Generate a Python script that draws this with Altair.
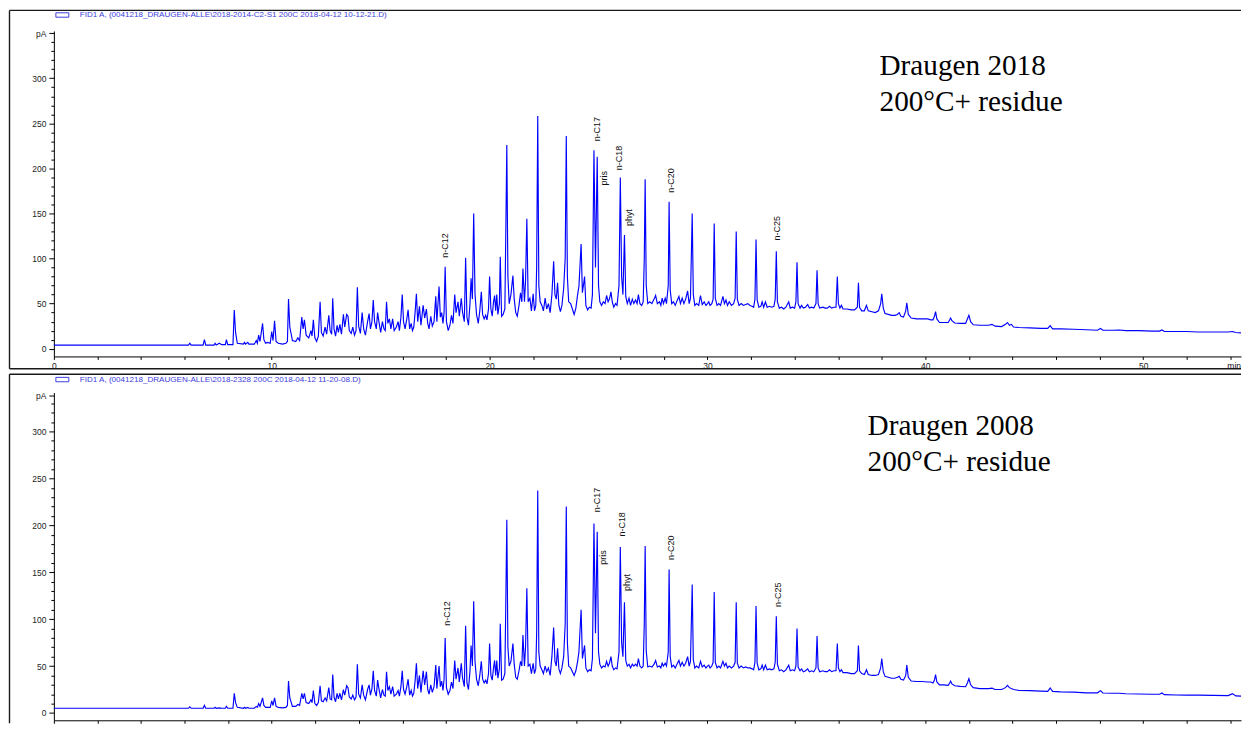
import altair as alt
import pandas as pd

# ---------------- data ----------------
trace_time = [
    0, 6.18, 6.24, 6.3, 6.85, 6.91, 6.97, 7.35, 7.4, 7.45,
    7.6, 7.7, 7.87, 7.92, 7.98, 8.22, 8.28, 8.34, 8.42, 8.7,
    8.75, 8.8, 8.9, 8.95, 9.2, 9.29, 9.34, 9.4, 9.46, 9.58,
    9.64, 9.72, 9.8, 9.93, 10.0, 10.06, 10.13, 10.2, 10.3, 10.5,
    10.65, 10.72, 10.77, 10.83, 10.95, 11.1, 11.2, 11.28, 11.38, 11.44,
    11.5, 11.58, 11.7, 11.8, 11.85, 11.91, 11.98, 12.06, 12.14, 12.22,
    12.28, 12.36, 12.45, 12.52, 12.62, 12.68, 12.75, 12.8, 12.86, 12.93,
    13.0, 13.06, 13.13, 13.2, 13.29, 13.35, 13.44, 13.5, 13.56, 13.65,
    13.72, 13.8, 13.87, 13.93, 13.99, 14.07, 14.15, 14.22, 14.3, 14.4,
    14.47, 14.53, 14.6, 14.66, 14.72, 14.8, 14.86, 14.92, 15.0, 15.08,
    15.15, 15.21, 15.27, 15.33, 15.4, 15.47, 15.55, 15.62, 15.72, 15.8,
    15.86, 15.93, 15.99, 16.05, 16.12, 16.2, 16.26, 16.33, 16.4, 16.46,
    16.52, 16.58, 16.64, 16.7, 16.78, 16.85, 16.95, 17.02, 17.1, 17.16,
    17.22, 17.3, 17.37, 17.45, 17.53, 17.58, 17.68, 17.74, 17.8, 17.86,
    17.91, 17.96, 18.02, 18.1, 18.18, 18.25, 18.32, 18.4, 18.46, 18.55,
    18.61, 18.7, 18.76, 18.84, 18.9, 18.96, 19.03, 19.1, 19.15, 19.21,
    19.27, 19.33, 19.4, 19.48, 19.55, 19.62, 19.68, 19.75, 19.82, 19.88,
    19.95, 20.0, 20.06, 20.12, 20.18, 20.23, 20.28, 20.33, 20.38, 20.45,
    20.49, 20.55, 20.62, 20.7, 20.74, 20.79, 20.84, 20.9, 20.98, 21.07,
    21.13, 21.2, 21.27, 21.35, 21.42, 21.48, 21.53, 21.6, 21.65, 21.71,
    21.77, 21.85, 21.92, 22.0, 22.06, 22.12, 22.16, 22.21, 22.26, 22.32,
    22.4, 22.47, 22.55, 22.62, 22.7, 22.78, 22.86, 22.94, 23.0, 23.06,
    23.12, 23.18, 23.25, 23.32, 23.4, 23.47, 23.52, 23.57, 23.63, 23.72,
    23.8, 23.88, 23.96, 24.04, 24.1, 24.2, 24.26, 24.36, 24.42, 24.5,
    24.58, 24.66, 24.72, 24.79, 24.86, 24.94, 25.0, 25.06, 25.14, 25.22,
    25.3, 25.37, 25.44, 25.5, 25.57, 25.63, 25.7, 25.78, 25.85, 25.94,
    26.0, 26.06, 26.12, 26.19, 26.25, 26.32, 26.4, 26.47, 26.55, 26.62,
    26.7, 26.77, 26.83, 26.9, 26.98, 27.05, 27.1, 27.14, 27.19, 27.26,
    27.35, 27.45, 27.55, 27.62, 27.7, 27.8, 27.86, 27.92, 27.98, 28.06,
    28.12, 28.2, 28.24, 28.29, 28.36, 28.44, 28.52, 28.6, 28.69, 28.76,
    28.84, 28.92, 29.0, 29.09, 29.16, 29.22, 29.3, 29.35, 29.42, 29.5,
    29.6, 29.68, 29.76, 29.85, 29.93, 30.0, 30.06, 30.12, 30.2, 30.26,
    30.31, 30.36, 30.44, 30.52, 30.6, 30.71, 30.78, 30.85, 30.92, 31.0,
    31.1, 31.2, 31.27, 31.32, 31.37, 31.45, 31.55, 31.65, 31.75, 31.85,
    31.95, 32.05, 32.12, 32.18, 32.23, 32.28, 32.36, 32.45, 32.51, 32.58,
    32.66, 32.74, 32.85, 32.95, 33.05, 33.11, 33.16, 33.21, 33.3, 33.4,
    33.5, 33.6, 33.73, 33.8, 33.9, 34.0, 34.06, 34.11, 34.16, 34.25,
    34.32, 34.4, 34.5, 34.6, 34.68, 34.78, 34.88, 34.98, 35.03, 35.08,
    35.15, 35.3, 35.4, 35.5, 35.6, 35.7, 35.8, 35.9, 35.96, 36.01,
    36.08, 36.15, 36.22, 36.4, 36.6, 36.75, 36.88, 36.93, 36.98, 37.08,
    37.2, 37.3, 37.38, 37.55, 37.7, 37.85, 37.95, 38.0, 38.07, 38.15,
    38.3, 38.45, 38.6, 38.72, 38.8, 38.88, 39.0, 39.1, 39.15, 39.22,
    39.35, 39.6, 39.85, 40.1, 40.25, 40.35, 40.42, 40.47, 40.53, 40.65,
    40.85, 41.05, 41.12, 41.16, 41.22, 41.35, 41.6, 41.85, 41.93, 42.0,
    42.08, 42.2, 42.5, 42.9, 43.06, 43.2, 43.5, 43.68, 43.77, 43.86,
    43.95, 44.05, 44.3, 44.8, 45.3, 45.62, 45.73, 45.84, 46.2, 46.8,
    47.4, 47.9, 48.04, 48.15, 48.6, 48.9, 49.2, 49.8, 50.4, 50.75,
    50.86, 50.97, 51.5, 52.0, 52.5, 53.2, 53.9, 54.1, 54.25, 54.49,
]

fid_2018 = [
    4, 4, 6, 4, 4, 10, 4, 4, 6, 4,
    6, 4.5, 4.5, 10, 4.5, 4.5, 43, 18, 6, 5,
    7, 5, 7, 5, 5, 9, 6, 15, 8, 28,
    10, 6, 7, 6, 19, 9, 31, 8, 6, 5,
    6, 8, 55, 24, 9, 8, 12, 9, 35, 22,
    32, 15, 12, 20, 14, 32, 12, 8, 14, 52,
    18, 14, 24, 16, 37, 20, 16, 56, 22, 14,
    26, 18, 27, 16, 38, 24, 38, 36, 20, 17,
    24, 15, 20, 68, 25, 17, 40, 22, 15, 30,
    39, 22, 30, 54, 30, 22, 40, 30, 18, 30,
    22, 20, 52, 28, 33, 22, 33, 20, 24, 30,
    20, 35, 60, 30, 22, 33, 43, 22, 28, 20,
    24, 40, 61, 30, 47, 26, 48, 34, 44, 28,
    22, 36, 25, 30, 58, 30, 69, 35, 40, 28,
    40, 91, 30, 20, 26, 37, 28, 60, 40, 52,
    36, 56, 40, 30, 101, 35, 26, 50, 78, 55,
    150, 61, 38, 28, 42, 63, 38, 33, 37, 32,
    44, 80, 44, 36, 52, 59, 42, 60, 38, 50,
    102, 36, 38, 44, 120, 226, 80, 50, 60, 81,
    55, 40, 36, 48, 62, 52, 89, 52, 75, 144,
    52, 56, 42, 61, 42, 48, 90, 258, 70, 52,
    48, 42, 56, 44, 50, 40, 60, 97, 60, 55,
    73, 48, 41, 48, 67, 100, 236, 80, 52, 50,
    44, 38, 45, 60, 69, 116, 62, 80, 48, 43,
    46, 45, 60, 220, 90, 213, 70, 52, 48, 52,
    50, 59, 52, 55, 63, 52, 46, 50, 48, 70,
    190, 80, 60, 126, 58, 50, 56, 48, 55, 50,
    54, 50, 60, 50, 48, 52, 100, 188, 70, 50,
    52, 50, 55, 59, 50, 52, 48, 56, 50, 56,
    50, 70, 163, 65, 50, 52, 48, 53, 58, 50,
    56, 50, 55, 64, 50, 56, 150, 60, 48, 50,
    48, 59, 49, 52, 48, 50, 52, 48, 50, 55,
    139, 56, 48, 50, 48, 58, 50, 54, 48, 52,
    48, 50, 56, 130, 55, 48, 50, 48, 49, 50,
    48, 47, 46, 55, 121, 54, 46, 47, 52, 46,
    52, 46, 47, 46, 47, 55, 108, 52, 45, 46,
    44, 46, 52, 45, 46, 45, 52, 96, 50, 45,
    48, 45, 46, 49, 45, 46, 45, 50, 87, 50,
    45, 46, 45, 45, 47, 45, 46, 46, 80, 50,
    45, 48, 44, 44, 43, 43, 46, 73, 46, 42,
    42, 48, 42, 41, 40, 42, 50, 61, 45, 39,
    38, 37, 37, 38, 40, 36, 35, 42, 51, 38,
    34, 33, 33, 33, 32, 32, 36, 41, 33, 29,
    29, 29, 32, 34, 31, 28.5, 28, 28, 33, 37,
    30, 26.5, 26, 26, 27, 25, 24.5, 27, 29, 26,
    27, 24, 23.5, 23, 22.5, 22.5, 25.6, 22, 22, 21.5,
    21, 20.5, 22.4, 20.5, 20.5, 20.7, 20, 20, 19.5, 19.5,
    20.7, 19, 19, 19, 18.5, 18.5, 18.5, 19, 18, 17.5,
]

fid_2008 = [
    5, 5, 6.5, 5, 5, 8, 5, 5, 6, 5,
    5.5, 5, 5, 7, 5, 5, 21, 11, 6, 5,
    6, 5, 6, 5, 5, 7, 6, 10, 7, 16,
    8, 6, 6, 6, 13, 8, 16, 7, 6, 5.5,
    6, 8, 34, 16, 7, 7, 9, 8, 21, 15,
    21, 11, 10, 14, 11, 24, 10, 8, 11, 29,
    13, 12, 16, 13, 27, 15, 14, 41, 17, 12,
    21, 15, 21, 14, 25, 19, 29, 27, 17, 15,
    19, 14, 17, 52, 20, 16, 30, 19, 14, 25,
    30, 19, 26, 45, 24, 18, 35, 26, 16, 25,
    19, 18, 44, 24, 28, 20, 28, 18, 20, 24,
    18, 28, 45, 25, 20, 28, 36, 19, 24, 18,
    21, 34, 53, 26, 40, 22, 45, 30, 44, 25,
    20, 30, 22, 28, 51, 26, 50, 28, 34, 24,
    36, 80, 27, 20, 24, 33, 26, 56, 36, 48,
    33, 53, 37, 28, 93, 32, 25, 45, 72, 50,
    119, 55, 36, 29, 40, 55, 36, 32, 35, 31,
    42, 74, 40, 35, 48, 56, 40, 56, 37, 47,
    95, 35, 36, 42, 110, 206, 70, 50, 55, 74,
    52, 38, 36, 45, 55, 50, 83, 50, 70, 133,
    50, 52, 42, 53, 42, 47, 85, 237, 65, 50,
    46, 42, 50, 44, 48, 40, 60, 91, 55, 50,
    69, 47, 42, 48, 60, 95, 220, 75, 50, 48,
    44, 40, 45, 55, 65, 110, 58, 72, 48, 44,
    46, 45, 58, 202, 85, 193, 65, 52, 48, 50,
    49, 55, 50, 53, 60, 50, 46, 48, 47, 65,
    177, 75, 60, 118, 56, 50, 52, 48, 52, 50,
    52, 50, 58, 50, 48, 50, 95, 178, 66, 49,
    50, 49, 52, 56, 49, 50, 48, 53, 50, 53,
    50, 65, 153, 60, 49, 51, 48, 52, 56, 50,
    54, 50, 53, 60, 50, 55, 137, 57, 48, 50,
    48, 55, 49, 51, 48, 50, 51, 48, 50, 54,
    129, 54, 48, 50, 48, 55, 50, 53, 48, 50,
    48, 50, 54, 118, 53, 48, 50, 48, 49, 48,
    48, 47, 46, 54, 114, 53, 46, 47, 51, 46,
    51, 46, 47, 46, 47, 54, 103, 52, 45, 46,
    44, 46, 51, 45, 46, 45, 50, 90, 49, 45,
    47, 44, 45, 47, 44, 45, 44, 48, 82, 48,
    44, 45, 44, 44, 46, 44, 45, 45, 74, 48,
    44, 46, 43, 43, 42, 42, 45, 72, 45, 42,
    41, 46, 41, 40, 40, 41, 48, 58, 44, 39,
    38, 37, 37, 38, 39, 36, 35, 40, 51, 38,
    34, 33.5, 33.5, 33, 33, 32, 35, 41, 33, 30,
    30, 29.5, 32, 34, 31, 29, 28.4, 28, 32, 36.5,
    30, 27, 26, 26, 26.5, 25, 25, 27, 29.4, 27,
    26, 25, 24, 23.8, 23.3, 23, 26.6, 23, 22.5, 22.2,
    21.5, 21.5, 23.8, 21.3, 21, 21, 20.5, 20.2, 20, 20,
    21.3, 19.5, 19.2, 19, 19, 18.8, 18.5, 20.6, 18.2, 18,
]

peak_names = ["n-C12", "n-C17", "pris", "n-C18", "phyt", "n-C20", "n-C25"]
name_time_2018 = [17.97, 24.91, 25.26, 25.96, 26.38, 28.31, 33.21]
name_level_2018 = [101, 230, 181, 198, 136, 173, 120]
name_time_2008 = [18.05, 24.91, 25.22, 26.06, 26.33, 28.31, 33.24]
name_level_2008 = [93, 214, 158, 188, 130, 163, 113]

x_ticks = list(range(0, 55, 2))
y_ticks_2018 = list(range(0, 350, 10)) + [350]
y_ticks_2008 = list(range(0, 340, 10)) + [338]

signal_titles = [
    r"FID1 A, (0041218_DRAUGEN-ALLE\2018-2014-C2-S1 200C 2018-04-12 10-12-21.D)",
    r"FID1 A, (0041218_DRAUGEN-ALLE\2018-2328 200C 2018-04-12 11-20-08.D)",
]
sample_notes = ["Draugen 2018\n200°C+ residue", "Draugen 2008\n200°C+ residue"]

# ---------------- chart ----------------
W = 1190.5
X_MAX = 54.49
SANS = "Liberation Sans"
BLUE = "#0000ff"
TITLE_BLUE = "#3c3cdc"
FRAME = "#1a1a1a"


def one_row():
    return pd.DataFrame({"k": [0]})


def panel(signal, name_t, name_y, y_ticks, y_dom, H, pa_tick, title, note,
          frame_top, frame_bottom, title_y, note_x, note_y, show_x_labels):
    df = pd.DataFrame({"t": trace_time, "pA": signal})
    xenc = alt.X(
        "t:Q",
        scale=alt.Scale(domain=[0, X_MAX], nice=False, zero=False),
        axis=alt.Axis(
            values=x_ticks,
            labels=show_x_labels,
            labelExpr="datum.value % 10 == 0 ? datum.label : ''",
            tickSize=3, labelPadding=2, labelFontSize=8.5, labelFont=SANS,
            labelColor="#222", domainColor="#000", tickColor="#000",
            title=None, grid=False, labelFlush=False, labelOverlap=False,
        ),
    )
    yenc = alt.Y(
        "pA:Q",
        scale=alt.Scale(domain=y_dom, nice=False, zero=False),
        axis=alt.Axis(
            values=y_ticks,
            labelExpr=f"datum.value == {pa_tick} ? 'pA' : (datum.value % 50 == 0 ? datum.label : '')",
            tickSize={"condition": {"test": f"datum.value % 50 == 0 || datum.value == {pa_tick}", "value": 5}, "value": 3},
            labelPadding=3, labelFontSize=8.5, labelFont=SANS,
            labelColor="#222", domainColor="#000", tickColor="#000",
            title=None, grid=False, labelOverlap=False, labelFlush=False,
        ),
    )
    trace = alt.Chart(df).mark_line(color=BLUE, strokeWidth=1.15).encode(x=xenc, y=yenc)

    names = pd.DataFrame({"t": name_t, "pA": name_y, "name": peak_names})
    labels = alt.Chart(names).mark_text(
        angle=270, align="left", baseline="middle", fontSize=9, font=SANS, color="#111"
    ).encode(x=xenc, y=yenc, text="name:N")

    frame_left = alt.Chart(one_row()).mark_rule(color=FRAME, strokeWidth=1.4).encode(
        x=alt.value(-44.5), y=alt.value(-frame_top), y2=alt.value(H + frame_bottom)
    )
    frame_top_rule = alt.Chart(one_row()).mark_rule(color=FRAME, strokeWidth=1.4).encode(
        x=alt.value(-44.5), x2=alt.value(W), y=alt.value(-frame_top)
    )
    layers = [frame_left, frame_top_rule]
    if show_x_labels:
        frame_bottom_rule = alt.Chart(one_row()).mark_rule(color=FRAME, strokeWidth=1.4).encode(
            x=alt.value(-44.5), x2=alt.value(W), y=alt.value(H + frame_bottom)
        )
        unit = alt.Chart(one_row()).mark_text(
            align="right", baseline="middle", fontSize=8.5, font=SANS, color="#111"
        ).encode(x=alt.value(W), y=alt.value(H + 10), text=alt.value("min"))
        layers += [frame_bottom_rule, unit]

    symbol = alt.Chart(one_row()).mark_rect(
        fill="transparent", stroke=TITLE_BLUE, strokeWidth=1
    ).encode(
        x=alt.value(2), x2=alt.value(15),
        y=alt.value(title_y - 2.2), y2=alt.value(title_y + 2.2),
    )
    head = alt.Chart(one_row()).mark_text(
        align="left", baseline="middle", fontSize=8.1, font=SANS, color=TITLE_BLUE
    ).encode(x=alt.value(26), y=alt.value(title_y), text=alt.value(title))
    note_mark = alt.Chart(one_row()).mark_text(
        align="left", baseline="alphabetic", fontSize=29.3, font="Liberation Serif",
        color="#000", lineBreak="\n", lineHeight=36,
    ).encode(x=alt.value(note_x), y=alt.value(note_y), text=alt.value(note))

    layers += [trace, labels, symbol, head, note_mark]
    return alt.layer(*layers).properties(width=W, height=H)


top = panel(fid_2018, name_time_2018, name_level_2018, y_ticks_2018, [-8.6, 352.5],
            326.4, 350, signal_titles[0], sample_notes[0],
            frame_top=20.6, frame_bottom=12.3, title_y=-16, note_x=828, note_y=44,
            show_x_labels=True)
bottom = panel(fid_2008, name_time_2008, name_level_2008, y_ticks_2008, [-7.8, 341.5],
               328.7, 338, signal_titles[1], sample_notes[1],
               frame_top=18.3, frame_bottom=3, title_y=-13, note_x=816, note_y=43,
               show_x_labels=False)

chart = alt.vconcat(top, bottom, spacing=2.6).properties(padding=0).configure_view(stroke=None)

chart.save("out.html", embed_options={"renderer": "svg", "actions": False})
